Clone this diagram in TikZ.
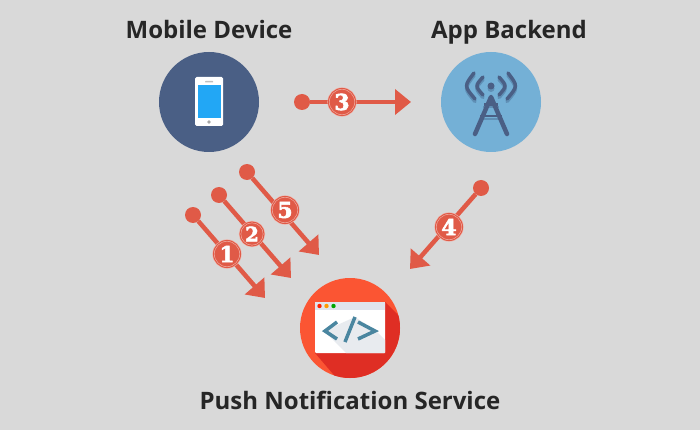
\documentclass[tikz,border=0pt]{standalone}
\usepackage{fontspec}
\setmainfont{Open Sans}
\newfontface\numfont[FakeBold=2.5]{DejaVu Serif Bold}
\usetikzlibrary{arrows.meta,positioning}
\definecolor{bgcol}{HTML}{D9D9D9}
\definecolor{flowred}{HTML}{E05A47}
\definecolor{ringred}{HTML}{F0B0A6}
\definecolor{mobileblue}{HTML}{4A5F85}
\definecolor{phoneblue}{HTML}{22A7F5}
\definecolor{backendblue}{HTML}{74B0D6}
\definecolor{towershade}{HTML}{5F8FB5}
\definecolor{serviceorange}{HTML}{FB5533}
\definecolor{servicedark}{HTML}{DF2E24}
\definecolor{barcol}{HTML}{E0E4EC}
\definecolor{winshade}{HTML}{E8EBEF}
\definecolor{codeblue}{HTML}{4A86A0}
\tikzset{
  icon/.style={circle,inner sep=0pt,minimum size=100pt},
  heading/.style={anchor=base,font=\fontsize{24}{28}\selectfont\bfseries,text=black!85,inner sep=0pt},
  startdot/.style={circle,fill=flowred,inner sep=0pt,minimum size=16pt},
  badge/.style={circle,fill=flowred,draw=ringred,line width=0.6pt,double=flowred,double distance=1pt,
    inner sep=0pt,minimum size=27pt,text=white,font=\fontsize{22}{22}\selectfont\numfont},
  flow/.style={draw=flowred,line width=4.5pt,-{Triangle[length=16pt,width=25pt,fill=flowred]}},
}
\begin{document}
\begin{tikzpicture}[x=1pt,y=-1pt,node distance=282pt]
\fill[bgcol] (0,0) rectangle (700,430);

\node[icon,fill=mobileblue]    (mobile) at (209,102) {};
\node[icon,fill=backendblue]   (backend) [right of=mobile] {};
\node[icon,fill=serviceorange] (service) at (350,328) {};

\node[heading] (mobiletitle) at (209,39) {Mobile Device};
\node[heading] (backendtitle) at (509,39) {App Backend};
\node[heading] (servicetitle) at (350,409) {Push Notification Service};

% phone
\fill[white,rounded corners=1.5pt] (195,77) rectangle (223,126);
\fill[phoneblue] (198,85.5) rectangle (221,118);
\fill[black!25,rounded corners=0.5pt] (205,81) rectangle (213,82.5);
\fill[black!35] (209,122) circle (1.8);

% tower
\foreach \col/\dy in {towershade/2.5,mobileblue/0}{
  \begin{scope}[yshift=-\dy pt,draw=\col,line width=3.5pt,line cap=round,fill=\col]
    \draw (483,77) .. controls (475,86) .. (483,95);
    \draw (499,77) .. controls (507,86) .. (499,95);
    \draw (474,73) .. controls (464,86) .. (475,99);
    \draw (508,73) .. controls (518,86) .. (507,99);
    \fill (491,86) circle (3.5);
  \end{scope}
}
\draw[towershade,line width=2pt] (483,107) -- (499,107);
\draw[towershade,line width=2pt] (480,119) -- (502,119);
\draw[mobileblue,line width=2.5pt] (484,104.5) -- (498,104.5);
\draw[mobileblue,line width=2.5pt] (480,116) -- (502,116);
\draw[mobileblue,line width=4.5pt,line cap=round,line join=round] (475,134) -- (491,97) -- (507,134);

% browser window
\begin{scope}
  \clip (350,328) circle (50);
  \fill[servicedark] (315,353) -- (385,302) -- (445,362) -- (375,423) -- cycle;
\end{scope}
\fill[white,rounded corners=1pt] (315,302) rectangle (385,353);
\fill[winshade] (324,331) -- (355,317) -- (376,331) -- (385,340) -- (385,353) -- (346,353) -- cycle;
\fill[barcol] (315,302) rectangle (385,310);
\fill[red!75!orange] (319.5,306) circle (2.2);
\fill[orange!80!yellow] (326.5,306) circle (2.2);
\fill[green!65!black] (333.5,306) circle (2.2);
\draw[codeblue,line width=3.5pt] (337,322) -- (325,331) -- (337,339);
\draw[codeblue,line width=3.5pt] (355,317) -- (345,342);
\draw[codeblue,line width=3.5pt] (358,322) -- (375,331) -- (358,339);

% flows
\node[startdot] (start1) at (193,215) {};
\node[startdot] (start2) at (219,195) {};
\node[startdot] (start3) at (302,102) {};
\node[startdot] (start4) at (481,188) {};
\node[startdot] (start5) at (247,172) {};
\coordinate (end1) at (265,298);
\coordinate (end2) at (291,278);
\coordinate (end3) at (411,102);
\coordinate (end4) at (410,269);
\coordinate (end5) at (319,255);

\foreach \i in {1,...,5}{
  \draw[flow] (start\i) -- (end\i);
}

\node[badge] (step1) at (227,254) {1};
\node[badge,minimum size=24pt,font=\fontsize{20}{20}\selectfont\numfont] (step2) at (252,234) {2};
\node[badge] (step3) at (342,102) {3};
\node[badge] (step4) at (449,227) {4};
\node[badge] (step5) at (285,210) {5};
\end{tikzpicture}
\end{document}
